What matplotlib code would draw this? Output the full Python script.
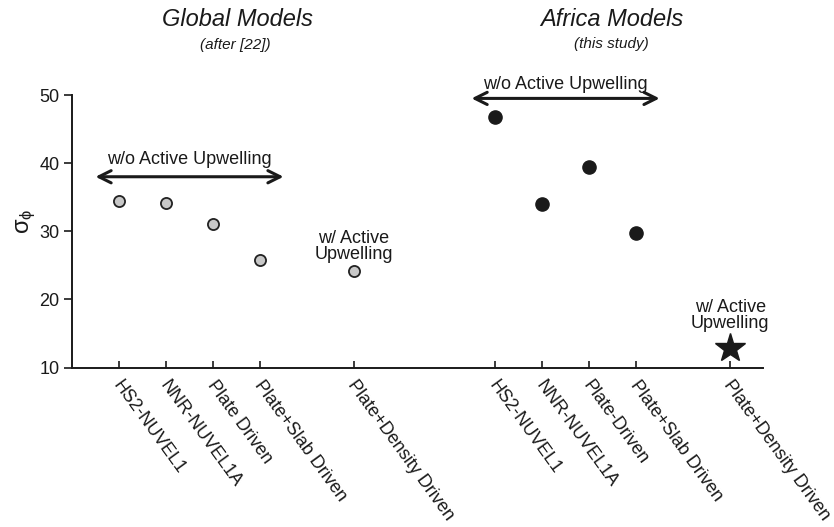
import matplotlib
matplotlib.use("Agg")
import matplotlib.pyplot as plt
import matplotlib.transforms as mtransforms

plt.rcParams['font.family'] = ['Liberation Sans', 'DejaVu Sans']
plt.rcParams['mathtext.fontset'] = 'custom'
plt.rcParams['mathtext.rm'] = 'Liberation Sans'
plt.rcParams['mathtext.it'] = 'Liberation Sans:italic'

# Model names and misfit values
global_models = ["HS2-NUVEL1", "NNR-NUVEL1A", "Plate Driven", "Plate+Slab Driven", "Plate+Density Driven"]
global_pos = [1, 2, 3, 4, 6]
global_sigma = [34.5, 34.1, 31.0, 25.8, 24.1]

africa_models = ["HS2-NUVEL1", "NNR-NUVEL1A", "Plate-Driven", "Plate+Slab Driven", "Plate+Density Driven"]
africa_pos = [9, 10, 11, 12, 14]
africa_sigma = [46.7, 34.0, 39.4, 29.8, 12.9]

y_ticks = [10, 20, 30, 40, 50]

fig = plt.figure(figsize=(8.34, 5.27), dpi=100)
ax = fig.add_axes([72 / 834, 1 - 367.5 / 527, 691 / 834, 272.5 / 527])

ax.set_xlim(0, 14.7)
ax.set_ylim(10, 50)

# Global models: grey circles
ax.plot(global_pos, global_sigma, linestyle='none', marker='o', markersize=8,
        markerfacecolor='#c8c8c8', markeredgecolor='#222222', markeredgewidth=1.3,
        clip_on=False, zorder=3)

# Africa models: black circles, final model shown as a star
ax.plot(africa_pos[:4], africa_sigma[:4], linestyle='none', marker='o', markersize=9.5,
        color='#1a1a1a', clip_on=False, zorder=3)
ax.plot(africa_pos[4:], africa_sigma[4:], linestyle='none', marker='*', markersize=22,
        color='#1a1a1a', clip_on=False, zorder=3)

ax.spines['top'].set_visible(False)
ax.spines['right'].set_visible(False)
for s in ('left', 'bottom'):
    ax.spines[s].set_linewidth(1.4)
    ax.spines[s].set_color('#1a1a1a')

ax.set_yticks(y_ticks)
ax.set_yticklabels([str(t) for t in y_ticks])
ax.tick_params(axis='y', direction='out', length=6, width=1.2, labelsize=13, pad=3,
               colors='#1a1a1a')

ax.set_xticks(global_pos + africa_pos)
ax.set_xticklabels(global_models + africa_models, rotation=-54, ha='left', va='top',
                   rotation_mode='anchor')
ax.tick_params(axis='x', direction='in', length=5, width=1.2, labelsize=13, pad=7,
               colors='#1a1a1a')
# nudge the slanted labels a little to the right of their ticks
shift = mtransforms.ScaledTranslation(4 / 100, 0, fig.dpi_scale_trans)
for lbl in ax.get_xticklabels():
    lbl.set_transform(lbl.get_transform() + shift)

# Range arrows for models without active upwelling
arrow_kw = dict(arrowstyle='<->', lw=2.2, color='#1a1a1a', mutation_scale=22,
                shrinkA=0, shrinkB=0)
ax.annotate('', xy=(0.5, 38.0), xytext=(4.5, 38.0), arrowprops=arrow_kw,
            annotation_clip=False)
ax.annotate('', xy=(8.5, 49.5), xytext=(12.5, 49.5), arrowprops=arrow_kw,
            annotation_clip=False)

ax.text(2.5, 40.5, "w/o Active Upwelling", ha='center', va='center', fontsize=13,
        color='#1a1a1a', clip_on=False)
ax.text(10.5, 51.5, "w/o Active Upwelling", ha='center', va='center', fontsize=13,
        color='#1a1a1a', clip_on=False)

ax.text(6, 27.8, "w/ Active\nUpwelling", ha='center', va='center', fontsize=13,
        linespacing=0.95, color='#1a1a1a', clip_on=False)
ax.text(14, 17.6, "w/ Active\nUpwelling", ha='center', va='center', fontsize=13,
        linespacing=0.95, color='#1a1a1a', clip_on=False)

# Group titles
fig.text(237 / 834, 1 - 20 / 527, "Global Models", ha='center', va='center',
         fontsize=17, style='italic', color='#1a1a1a')
fig.text(235 / 834, 1 - 45 / 527, "(after [22])", ha='center', va='center',
         fontsize=11, style='italic', color='#1a1a1a')
fig.text(612 / 834, 1 - 20 / 527, "Africa Models", ha='center', va='center',
         fontsize=17, style='italic', color='#1a1a1a')
fig.text(611 / 834, 1 - 44 / 527, "(this study)", ha='center', va='center',
         fontsize=11, style='italic', color='#1a1a1a')

fig.text(26 / 834, 1 - 221 / 527, r"$\mathrm{\sigma}_{\mathrm{\phi}}$", rotation=90,
         ha='center', va='center', fontsize=17, color='#1a1a1a')

fig.savefig("out.png", dpi=100)
